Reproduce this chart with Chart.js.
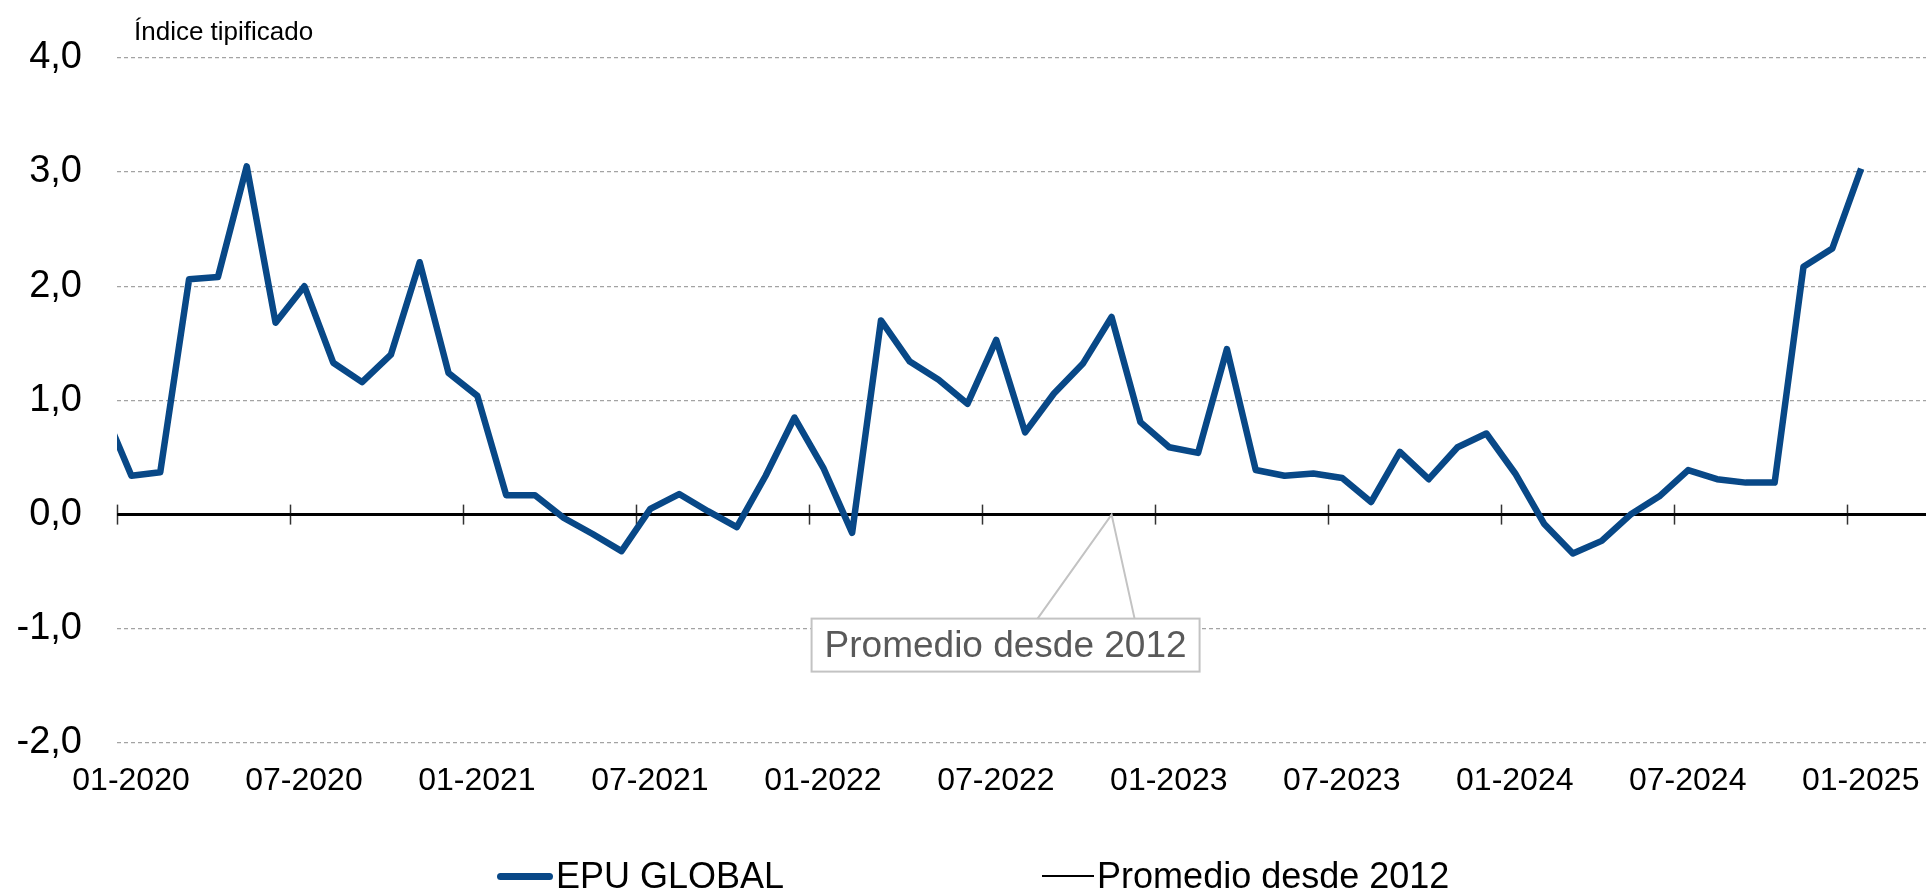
<!DOCTYPE html>
<html>
<head>
<meta charset="utf-8">
<script src="https://cdn.jsdelivr.net/npm/chart.js@4.4.1/dist/chart.umd.min.js"></script>
<style>
  html, body { margin: 0; padding: 0; background: #fff; }
  #wrap { position: relative; width: 1926px; height: 893px; }
  #legend {
    position: absolute; left: 497px; top: 855px; height: 42px;
    display: flex; align-items: center; gap: 258px;
    font-family: "Liberation Sans", Arial, sans-serif; font-size: 36px; color: #000;
  }
  .item { display: flex; align-items: center; gap: 3px; white-space: nowrap; }
</style>
</head>
<body>
<div id="wrap">
  <canvas id="myChart" width="1926" height="893"></canvas>
  <div id="legend"></div>
</div>
<script>
// months, starting with the last one before the visible range (line enters from the left edge)
const months = [
  '12-2019',
  '01-2020', '02-2020', '03-2020', '04-2020', '05-2020', '06-2020', '07-2020', '08-2020', '09-2020', '10-2020', '11-2020', '12-2020',
  '01-2021', '02-2021', '03-2021', '04-2021', '05-2021', '06-2021', '07-2021', '08-2021', '09-2021', '10-2021', '11-2021', '12-2021',
  '01-2022', '02-2022', '03-2022', '04-2022', '05-2022', '06-2022', '07-2022', '08-2022', '09-2022', '10-2022', '11-2022', '12-2022',
  '01-2023', '02-2023', '03-2023', '04-2023', '05-2023', '06-2023', '07-2023', '08-2023', '09-2023', '10-2023', '11-2023', '12-2023',
  '01-2024', '02-2024', '03-2024', '04-2024', '05-2024', '06-2024', '07-2024', '08-2024', '09-2024', '10-2024', '11-2024', '12-2024',
  '01-2025'
];

const epuGlobal = [
  0.94,
  0.34, 0.37, 2.06, 2.08, 3.05, 1.68, 2.00, 1.33, 1.16, 1.40, 2.21, 1.24,
  1.04, 0.17, 0.17, -0.03, -0.17, -0.32, 0.05, 0.18, 0.03, -0.11, 0.34, 0.85,
  0.41, -0.16, 1.70, 1.34, 1.18, 0.97, 1.53, 0.72, 1.06, 1.32, 1.73, 0.81,
  0.59, 0.54, 1.45, 0.39, 0.34, 0.36, 0.32, 0.11, 0.55, 0.31, 0.59, 0.71,
  0.36, -0.08, -0.34, -0.23, 0.00, 0.16, 0.39, 0.31, 0.28, 0.28, 2.17, 2.33,
  3.03
];

const promedio = months.map(() => 0);

const tickLabels = ['01-2020', '07-2020', '01-2021', '07-2021', '01-2022', '07-2022',
                    '01-2023', '07-2023', '01-2024', '07-2024', '01-2025'];

const annotationMonth = '11-2022';
const annotationText = 'Promedio desde 2012';

const FONT = '"Liberation Sans", Arial, sans-serif';
const BLUE = '#084887';

// month i sits in the middle of its slot; slot boundaries are integers
const toPoints = (values) => values.map((v, i) => ({ x: i - 0.5, y: v }));

const unitTitle = {
  id: 'unitTitle',
  afterDraw(chart) {
    const { ctx, chartArea } = chart;
    ctx.save();
    ctx.font = '26px ' + FONT;
    ctx.fillStyle = '#000';
    ctx.textBaseline = 'alphabetic';
    ctx.fillText('Índice tipificado', chartArea.left + 17, chartArea.top - 18);
    ctx.restore();
  }
};

const crossTicks = {
  id: 'crossTicks',
  beforeDatasetsDraw(chart) {
    const { ctx, scales } = chart;
    const y0 = scales.y.getPixelForValue(0);
    ctx.save();
    ctx.strokeStyle = '#333';
    ctx.lineWidth = 1.5;
    scales.x.ticks.forEach(t => {
      const x = Math.round(scales.x.getPixelForValue(t.value)) + 0.5;
      ctx.beginPath();
      ctx.moveTo(x, y0 - 10);
      ctx.lineTo(x, y0 + 10);
      ctx.stroke();
    });
    ctx.restore();
  }
};

const callout = {
  id: 'callout',
  afterDatasetsDraw(chart) {
    const { ctx } = chart;
    const idx = months.indexOf(annotationMonth);
    const pt = chart.getDatasetMeta(1).data[idx];
    const ax = pt.x, ay = pt.y;
    const left = ax - 300, right = ax + 88, top = ay + 104, bottom = ay + 157;
    ctx.save();
    ctx.fillStyle = '#fff';
    ctx.fillRect(left, top, right - left, bottom - top);
    ctx.strokeStyle = '#c3c3c3';
    ctx.lineWidth = 2;
    ctx.strokeRect(left, top, right - left, bottom - top);
    ctx.beginPath();
    ctx.moveTo(ax - 74, top);
    ctx.lineTo(ax, ay);
    ctx.lineTo(ax + 23, top);
    ctx.stroke();
    ctx.fillStyle = '#595959';
    ctx.font = '37px ' + FONT;
    ctx.textAlign = 'center';
    ctx.textBaseline = 'middle';
    ctx.fillText(annotationText, (left + right) / 2, (top + bottom) / 2 + 2);
    ctx.restore();
  }
};

function renderChart() {
  const canvas = document.getElementById('myChart');
  return new Chart(canvas, {
    type: 'line',
    data: {
      datasets: [
        {
          label: 'EPU GLOBAL',
          data: toPoints(epuGlobal),
          borderColor: BLUE,
          borderWidth: 6.5,
          borderJoinStyle: 'round',
          pointRadius: 0,
          tension: 0,
          clip: 0,
          order: 0
        },
        {
          label: 'Promedio desde 2012',
          data: toPoints(promedio),
          borderColor: '#000',
          borderWidth: 2.5,
          pointRadius: 0,
          clip: 0,
          order: 1
        }
      ]
    },
    options: {
      responsive: false,
      animation: false,
      devicePixelRatio: 1,
      layout: { padding: { top: 54, right: 0, bottom: 0, left: 0 } },
      plugins: {
        legend: { display: false },
        tooltip: { enabled: false }
      },
      scales: {
        x: {
          type: 'linear',
          min: 0,
          max: 62.75,
          position: 'bottom',
          grid: { display: false, drawTicks: false },
          border: { display: false },
          afterBuildTicks: (scale) => {
            scale.ticks = tickLabels.map((t, i) => ({ value: i * 6 }));
          },
          afterFit: (scale) => { scale.height = 150; },
          ticks: {
            autoSkip: false,
            maxRotation: 0,
            padding: 19,
            labelOffset: 14,
            color: '#000',
            font: { family: FONT, size: 32 },
            callback: (v, i) => tickLabels[i]
          }
        },
        y: {
          min: -2,
          max: 4,
          afterFit: (scale) => { scale.width = 117; },
          grid: {
            drawTicks: false,
            color: (c) => c.tick && c.tick.value === 0 ? '#000' : '#a3a3a3',
            lineWidth: (c) => c.tick && c.tick.value === 0 ? 3 : 1.3
          },
          border: {
            display: false,
            dash: (c) => c.tick && c.tick.value === 0 ? [] : [4, 3]
          },
          ticks: {
            stepSize: 1,
            padding: 35,
            color: '#000',
            font: { family: FONT, size: 38 },
            callback: (v) => v.toFixed(1).replace('.', ',')
          }
        }
      }
    },
    plugins: [unitTitle, crossTicks, callout]
  });
}

function renderLegend(chart) {
  const box = document.getElementById('legend');
  const swatches = [{ w: 56, h: 7, r: 4 }, { w: 52, h: 2, r: 0 }];
  chart.data.datasets.forEach((ds, i) => {
    const item = document.createElement('div');
    item.className = 'item';
    const sw = document.createElement('span');
    sw.style.cssText = `display:inline-block;width:${swatches[i].w}px;height:${swatches[i].h}px;` +
      `background:${ds.borderColor};border-radius:${swatches[i].r}px;`;
    const txt = document.createElement('span');
    txt.textContent = ds.label;
    item.appendChild(sw);
    item.appendChild(txt);
    box.appendChild(item);
  });
}

const chart = renderChart();
renderLegend(chart);
</script>
</body>
</html>
